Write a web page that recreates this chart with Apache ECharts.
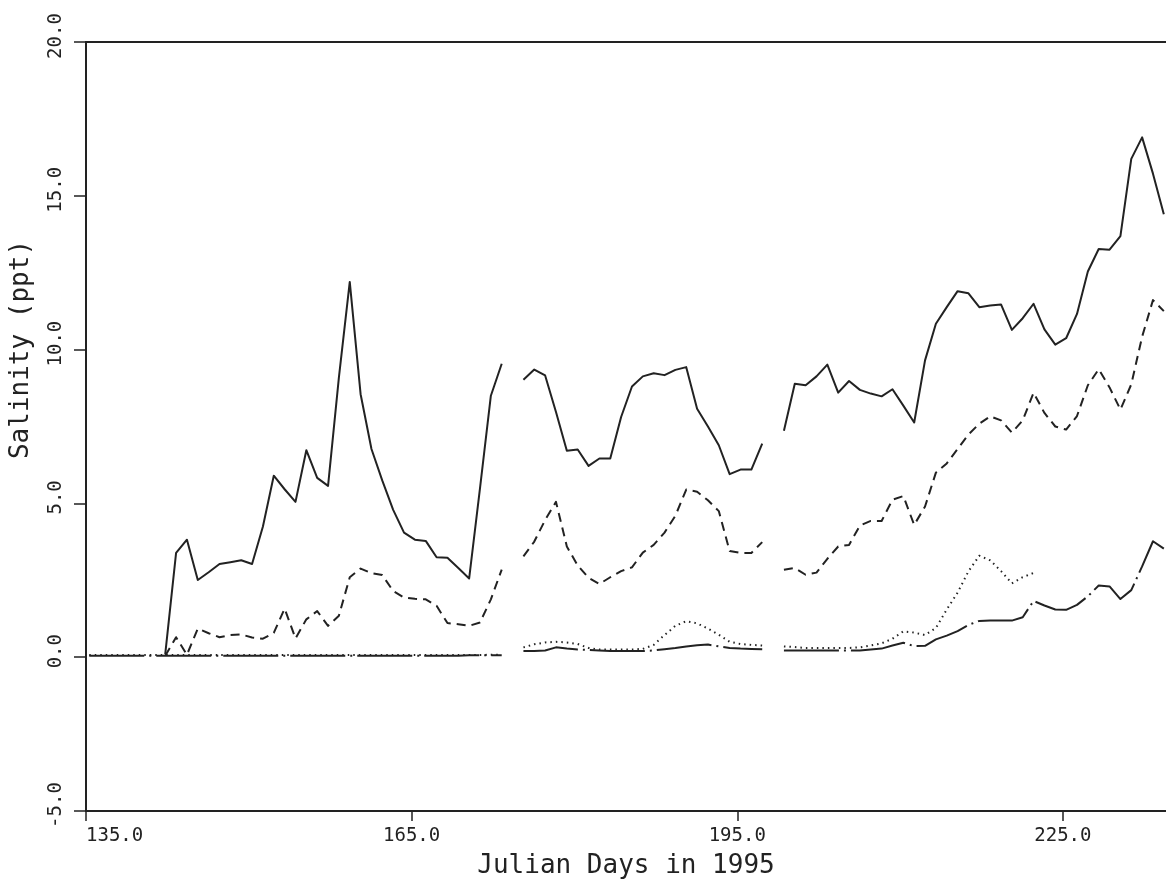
<!DOCTYPE html>
<html>
<head>
<meta charset="utf-8">
<title>Salinity, 1995</title>
<script src="https://cdn.jsdelivr.net/npm/echarts@6/dist/echarts.min.js"></script>
<style>
  html, body { margin: 0; padding: 0; background: #ffffff; }
  #chart { width: 1166px; height: 884px; }
</style>
</head>
<body>
<div id="chart"></div>
<script>
// Sampling days (Julian day, 1995)
const days = [
  135.3, 136.3, 137.3, 138.3, 139.3, 140.3, 141.3, 142.3, 143.3, 144.3,
  145.3, 146.3, 147.3, 148.3, 149.3, 150.3, 151.3, 152.3, 153.3, 154.3,
  155.3, 156.3, 157.3, 158.3, 159.3, 160.3, 161.3, 162.3, 163.3, 164.3,
  165.3, 166.3, 167.3, 168.3, 169.3, 170.3, 171.3, 172.3, 173.3, 174.3,
  175.3, 176.3, 177.3, 178.3, 179.3, 180.3, 181.3, 182.3, 183.3, 184.3,
  185.3, 186.3, 187.3, 188.3, 189.3, 190.3, 191.3, 192.3, 193.3, 194.3,
  195.3, 196.3, 197.3, 198.3, 199.3, 200.3, 201.3, 202.3, 203.3, 204.3,
  205.3, 206.3, 207.3, 208.3, 209.3, 210.3, 211.3, 212.3, 213.3, 214.3,
  215.3, 216.3, 217.3, 218.3, 219.3, 220.3, 221.3, 222.3, 223.3, 224.3,
  225.3, 226.3, 227.3, 228.3, 229.3, 230.3, 231.3, 232.3, 233.3, 234.3
];

// Salinity (ppt) per station; null = no record
const solidSal = [
  null, null, null, null, null, null, null, 0.1, 3.39, 3.82,
  2.51, 2.76, 3.03, 3.09, 3.15, 3.03, 4.25, 5.9, 5.46, 5.05,
  6.73, 5.83, 5.57, 9.1, 12.2, 8.55, 6.77, 5.74, 4.79, 4.05,
  3.82, 3.78, 3.25, 3.23, 2.9, 2.56, 5.5, 8.5, 9.54, null,
  9.02, 9.35, 9.16, 7.97, 6.71, 6.75, 6.22, 6.46, 6.46, 7.81,
  8.8, 9.13, 9.23, 9.17, 9.34, 9.43, 8.08, 7.5, 6.89, 5.95,
  6.1, 6.1, 6.94, null, 7.36, 8.89, 8.84, 9.13, 9.51, 8.6,
  8.98, 8.69, 8.57, 8.48, 8.71, 8.18, 7.63, 9.65, 10.84, 11.38,
  11.9, 11.83, 11.38, 11.43, 11.47, 10.64, 11.02, 11.49, 10.66, 10.16,
  10.37, 11.16, 12.54, 13.27, 13.25, 13.69, 16.2, 16.9, 15.72, 14.4
];

const dashedSal = [
  null, null, null, null, null, null, null, 0.05, 0.65, 0.08,
  0.93, 0.78, 0.65, 0.72, 0.74, 0.64, 0.6, 0.79, 1.58, 0.61,
  1.23, 1.5, 1.02, 1.35, 2.6, 2.88, 2.73, 2.67, 2.15, 1.94,
  1.9, 1.88, 1.67, 1.11, 1.07, 1.02, 1.13, 1.88, 2.85, null,
  3.28, 3.76, 4.46, 5.05, 3.6, 2.98, 2.58, 2.38, 2.6, 2.8,
  2.92, 3.4, 3.65, 4.05, 4.6, 5.45, 5.38, 5.1, 4.75, 3.45,
  3.39, 3.39, 3.74, null, 2.84, 2.9, 2.68, 2.75, 3.2, 3.6,
  3.65, 4.28, 4.43, 4.43, 5.12, 5.24, 4.3, 4.9, 6.0, 6.3,
  6.77, 7.24, 7.59, 7.83, 7.7, 7.3, 7.7, 8.6, 7.94, 7.5,
  7.4, 7.84, 8.84, 9.36, 8.77, 8.05, 8.87, 10.42, 11.61, 11.25
];

const dottedSal = [
  0.07, 0.07, 0.07, 0.07, 0.07, 0.07, 0.07, 0.07, 0.07, 0.07,
  0.07, 0.07, 0.07, 0.07, 0.07, 0.07, 0.07, 0.07, 0.07, 0.07,
  0.07, 0.07, 0.07, 0.07, 0.07, 0.07, 0.07, 0.07, 0.07, 0.07,
  0.07, 0.07, 0.07, 0.07, 0.07, 0.07, 0.07, 0.08, 0.08, null,
  0.32, 0.42, 0.48, 0.5, 0.48, 0.43, 0.3, 0.25, 0.25, 0.25,
  0.25, 0.27, 0.4, 0.72, 1.02, 1.17, 1.1, 0.93, 0.73, 0.5,
  0.43, 0.4, 0.38, null, 0.35, 0.33, 0.3, 0.3, 0.3, 0.3,
  0.3, 0.32, 0.38, 0.45, 0.6, 0.84, 0.8, 0.72, 0.95, 1.55,
  2.1, 2.79, 3.3, 3.15, 2.8, 2.4, 2.6, 2.74, null, null,
  null, null, null, null, null, null, null, null, null, null
];

const dashDotSal = [
  0.05, 0.05, 0.05, 0.05, 0.05, 0.05, 0.05, 0.05, 0.05, 0.05,
  0.05, 0.05, 0.05, 0.05, 0.05, 0.05, 0.05, 0.05, 0.05, 0.05,
  0.05, 0.05, 0.05, 0.05, 0.05, 0.05, 0.05, 0.05, 0.05, 0.05,
  0.05, 0.05, 0.05, 0.05, 0.05, 0.06, 0.06, 0.06, 0.06, null,
  0.2, 0.2, 0.22, 0.32, 0.28, 0.25, 0.24, 0.22, 0.2, 0.2,
  0.2, 0.2, 0.22, 0.26, 0.3, 0.35, 0.39, 0.41, 0.35, 0.3,
  0.28, 0.27, 0.26, null, 0.22, 0.22, 0.22, 0.22, 0.22, 0.22,
  0.22, 0.22, 0.25, 0.28, 0.38, 0.47, 0.36, 0.37, 0.58, 0.7,
  0.85, 1.05, 1.18, 1.19, 1.19, 1.19, 1.3, 1.83, 1.68, 1.55,
  1.54, 1.7, 1.98, 2.33, 2.3, 1.89, 2.18, 2.95, 3.77, 3.53
];

// Axis ticks
const xTicks = [135, 165, 195, 225];
const yTicks = [-5, 0, 5, 10, 15, 20];

const INK = '#222222';
const FONT = 'DejaVu Sans Mono';

function pairs(vals) {
  return days.map((d, i) => [d, vals[i]]);
}

function lineSeries(name, vals, dash) {
  return {
    name: name,
    type: 'line',
    data: pairs(vals),
    showSymbol: false,
    connectNulls: false,
    silent: true,
    animation: false,
    lineStyle: { color: INK, width: 2, type: dash, cap: 'butt', join: 'round' }
  };
}

const chart = echarts.init(document.getElementById('chart'), null, { renderer: 'canvas' });

chart.setOption({
  backgroundColor: '#ffffff',
  animation: false,
  grid: { left: 79, right: 0, top: 42, bottom: 72, containLabel: false },
  xAxis: [
    {
      type: 'value',
      min: 135,
      max: 234.5,
      interval: 30,
      position: 'bottom',
      name: 'Julian Days in 1995',
      nameLocation: 'middle',
      nameGap: 42,
      nameTextStyle: { fontFamily: FONT, fontSize: 26, color: INK },
      axisLine: { show: true, onZero: false, lineStyle: { color: INK, width: 2 } },
      axisTick: { show: true, inside: false, length: 10, customValues: xTicks, lineStyle: { color: INK, width: 1.5 } },
      axisLabel: {
        show: true,
        customValues: xTicks,
        margin: 16,
        alignMinLabel: 'left',
        fontFamily: FONT,
        fontSize: 19,
        color: INK,
        formatter: v => v.toFixed(1)
      },
      splitLine: { show: false }
    },
    {
      type: 'value',
      min: 135,
      max: 234.5,
      position: 'top',
      axisLine: { show: true, onZero: false, lineStyle: { color: INK, width: 2 } },
      axisTick: { show: false },
      axisLabel: { show: false },
      splitLine: { show: false }
    }
  ],
  yAxis: {
    type: 'value',
    min: -5,
    max: 20,
    interval: 5,
    name: 'Salinity (ppt)',
    nameLocation: 'middle',
    nameRotate: 90,
    nameGap: 52,
    nameTextStyle: { fontFamily: FONT, fontSize: 26, color: INK, padding: [0, 0, 0, 154] },
    axisLine: { show: true, onZero: false, lineStyle: { color: INK, width: 2 } },
    axisTick: { show: true, inside: false, length: 12, customValues: yTicks, lineStyle: { color: INK, width: 1.5 } },
    axisLabel: {
      show: true,
      rotate: 90,
      margin: 20,
      padding: [0, 0, 0, 12],
      fontFamily: FONT,
      fontSize: 19,
      color: INK,
      formatter: v => v.toFixed(1)
    },
    splitLine: { show: false }
  },
  series: [
    lineSeries('Station A', solidSal, 'solid'),
    lineSeries('Station B', dashedSal, [9, 6]),
    lineSeries('Station C', dottedSal, [1.5, 4]),
    lineSeries('Station D', dashDotSal, [55, 5, 2, 5])
  ]
});
</script>
</body>
</html>
